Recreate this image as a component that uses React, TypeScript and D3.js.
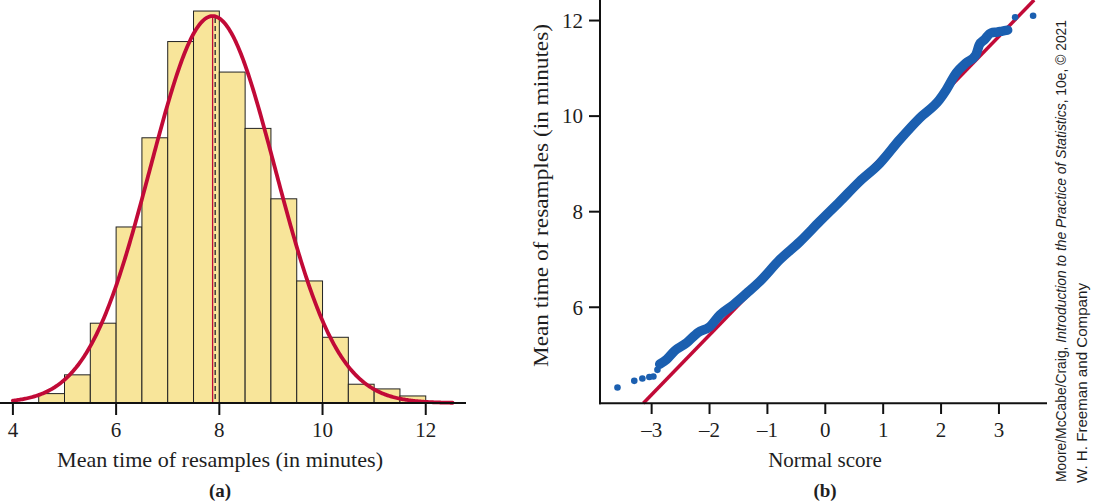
import React from "react";
import * as d3 from "d3";

// (a) histogram of the resample means, bins of 0.5 minutes
const binStarts = [4.5, 5, 5.5, 6, 6.5, 7, 7.5, 8, 8.5, 9, 9.5, 10, 10.5, 11, 11.5];
const binCounts = [4, 12, 34, 75, 113, 154, 167, 141, 117, 87, 52, 28, 8, 6, 3];
const binWidth = 0.5;
const nResamples = 1000;
const fitMean = 7.87; // normal curve
const fitSd = 1.21;
const sampleMean = 7.92; // dashed line
const ticksA = [4, 6, 8, 10, 12];

// (b) normal quantile plot, read along the plotted points
const normalScores = [
  -3.59, -3.3, -3.16, -3.04, -2.97, -2.9, -2.86, -2.74, -2.6, -2.4, -2.2, -2.0, -1.82, -1.59,
  -1.36, -1.13, -0.79, -0.44, -0.1, 0.25, 0.59, 0.94, 1.28, 1.63, 1.97, 2.09, 2.26, 2.43, 2.6,
  2.66, 2.75, 2.86, 2.98, 3.06, 3.15, 3.28, 3.59,
];
const resampleMeans = [
  4.32, 4.46, 4.51, 4.54, 4.55, 4.69, 4.81, 4.91, 5.09, 5.25, 5.47, 5.59, 5.84, 6.05, 6.29,
  6.54, 6.99, 7.37, 7.79, 8.21, 8.63, 9.01, 9.5, 9.96, 10.34, 10.55, 10.9, 11.11, 11.28, 11.49,
  11.6, 11.74, 11.76, 11.78, 11.8, 12.07, 12.1,
];
const qqMean = 7.92;
const qqSd = 1.25;
const ticksBx = [-3, -2, -1, 0, 1, 2, 3];
const ticksBy = [6, 8, 10, 12];

const RED = "#c10a37";
const BLUE = "#1b5fb0";
const INK = "#1e1e1e";
const SERIF = "'Liberation Serif', 'Times New Roman', serif";

const App: React.FC = () => {
  // --- panel (a)
  const xA = d3.scaleLinear().domain([3.75, 12.78]).range([0, 466]);
  const yA = d3.scaleLinear().domain([0, 170]).range([403, 4]);
  const axisYA = 403;

  const curve = d3.range(4, 12.54, 0.02).map((x) => [
    x,
    nResamples * binWidth * (Math.exp(-0.5 * ((x - fitMean) / fitSd) ** 2) / (fitSd * Math.sqrt(2 * Math.PI))),
  ]);
  const curvePath = d3
    .line<number[]>()
    .x((d) => xA(d[0]))
    .y((d) => yA(d[1]))(curve);
  const peak = (nResamples * binWidth) / (fitSd * Math.sqrt(2 * Math.PI));

  // --- panel (b)
  const xB = d3.scaleLinear().domain([-3.88, 3.83]).range([600.7, 1047]);
  const yB = d3.scaleLinear().domain([3.99, 12.43]).range([403.3, 0]);
  const zLo = (yB.domain()[0] - qqMean) / qqSd;
  const zHi = (yB.domain()[1] - qqMean) / qqSd;
  const pts = normalScores.map((z, i) => [z, resampleMeans[i]]);
  const bandPath = d3
    .line<number[]>()
    .x((d) => xB(d[0]))
    .y((d) => yB(d[1]))
    .curve(d3.curveMonotoneX)(pts.slice(6, 35));

  return (
    <svg
      width={1093}
      height={501}
      style={{ position: "absolute", left: 0, top: 0, background: "#fff" }}
      fontFamily={SERIF}
    >
      {/* ---------- (a) ---------- */}
      <g>
        {binStarts.map((b, i) => (
          <rect
            key={i}
            x={xA(b)}
            y={yA(binCounts[i])}
            width={xA(b + binWidth) - xA(b)}
            height={yA(0) - yA(binCounts[i])}
            fill="#f8e59a"
            stroke="#222"
            strokeWidth={1}
          />
        ))}
        <line x1={xA(sampleMean)} x2={xA(sampleMean)} y1={18} y2={axisYA} stroke="#333" strokeWidth={1.4} strokeDasharray="5,3" />
        <line x1={xA(fitMean)} x2={xA(fitMean)} y1={yA(peak)} y2={axisYA} stroke={RED} strokeWidth={1.3} />
        <path d={curvePath || ""} fill="none" stroke={RED} strokeWidth={3.8} strokeLinecap="round" />
        <line x1={xA.range()[0]} x2={xA.range()[1]} y1={axisYA} y2={axisYA} stroke="#111" strokeWidth={2} />
        {ticksA.map((t) => (
          <g key={t} transform={`translate(${xA(t)},0)`}>
            <line y1={axisYA} y2={axisYA + 12} stroke="#111" strokeWidth={2} />
            <text y={437} textAnchor="middle" fontSize={21} fill={INK}>
              {t}
            </text>
          </g>
        ))}
        <text x={57} y={467} fontSize={21} fill={INK} textLength={326} lengthAdjust="spacingAndGlyphs">
          Mean time of resamples (in minutes)
        </text>
        <text x={220} y={497} textAnchor="middle" fontSize={19} fontWeight="bold" fill={INK}>
          (a)
        </text>
      </g>

      {/* ---------- (b) ---------- */}
      <g>
        <line x1={xB(zLo)} y1={yB(qqMean + qqSd * zLo)} x2={xB(zHi)} y2={yB(qqMean + qqSd * zHi)} stroke={RED} strokeWidth={3.5} />
        <path d={bandPath || ""} fill="none" stroke={BLUE} strokeWidth={9.5} strokeLinecap="round" strokeLinejoin="round" />
        {pts.map((d, i) => (
          <circle key={i} cx={xB(d[0])} cy={yB(d[1])} r={3.3} fill={BLUE} />
        ))}
        <line x1={600} x2={600} y1={0} y2={404.3} stroke="#111" strokeWidth={2} />
        <line x1={599} x2={xB.range()[1]} y1={403.3} y2={403.3} stroke="#111" strokeWidth={2} />
        {ticksBy.map((t) => (
          <g key={t} transform={`translate(0,${yB(t)})`}>
            <line x1={589} x2={600} stroke="#111" strokeWidth={2} />
            <text x={583} dy="0.35em" textAnchor="end" fontSize={21} fill={INK}>
              {t}
            </text>
          </g>
        ))}
        {ticksBx.map((t) => (
          <g key={t} transform={`translate(${xB(t)},0)`}>
            <line y1={403.3} y2={414} stroke="#111" strokeWidth={2} />
            <text y={437} textAnchor="middle" fontSize={21} fill={INK}>
              {t < 0 ? `\u2013${-t}` : t}
            </text>
          </g>
        ))}
        <text x={825} y={467} textAnchor="middle" fontSize={21} fill={INK}>
          Normal score
        </text>
        <text x={825} y={497} textAnchor="middle" fontSize={19} fontWeight="bold" fill={INK}>
          (b)
        </text>
        <text
          transform="translate(548,367) rotate(-90)"
          fontSize={21}
          fill={INK}
          textLength={343}
          lengthAdjust="spacingAndGlyphs"
        >
          Mean time of resamples (in minutes)
        </text>
      </g>

      {/* credit */}
      <g fontFamily="'Liberation Sans Narrow', 'Liberation Sans', Arial, sans-serif" fontSize={15} fill={INK}>
        <text transform="translate(1066,482) rotate(-90)" textLength={462} lengthAdjust="spacingAndGlyphs">
          Moore/McCabe/Craig, <tspan fontStyle="italic">Introduction to the Practice of Statistics</tspan>, 10e, © 2021
        </text>
        <text transform="translate(1087,483) rotate(-90)" textLength={200} lengthAdjust="spacingAndGlyphs">
          W. H. Freeman and Company
        </text>
      </g>
    </svg>
  );
};

export default App;
